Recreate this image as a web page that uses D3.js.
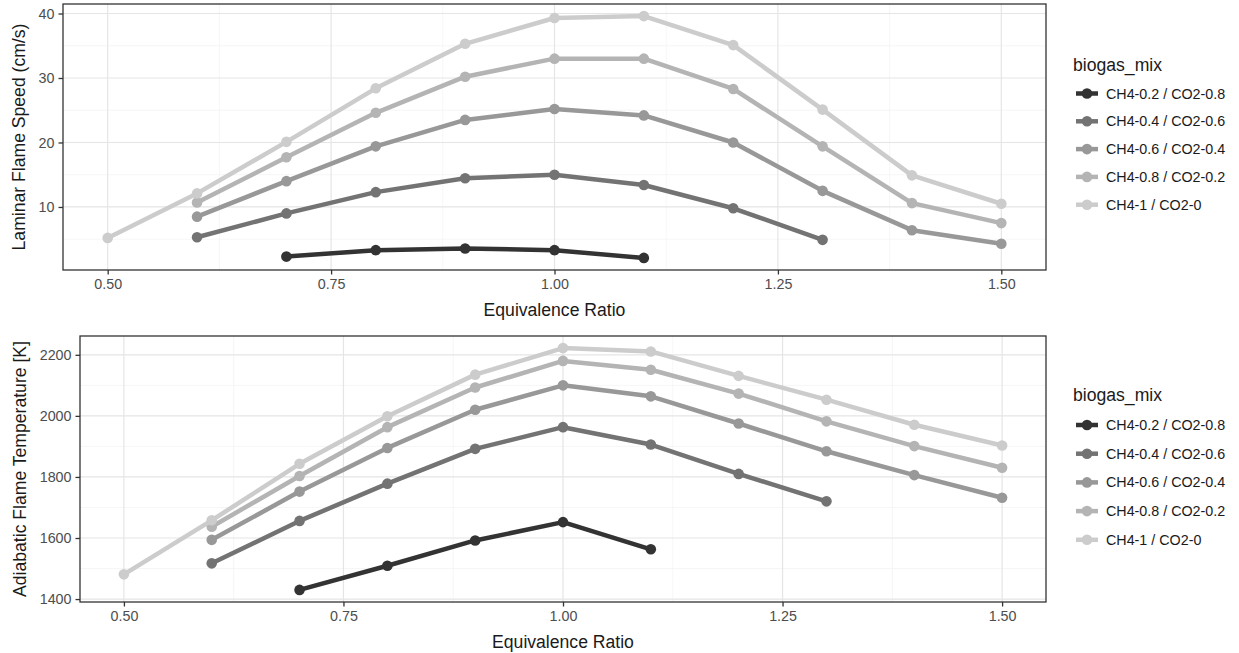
<!DOCTYPE html>
<html>
<head>
<meta charset="utf-8">
<script src="https://cdn.jsdelivr.net/npm/d3@7"></script>
<style>
  html, body { margin: 0; padding: 0; background: #ffffff; }
  svg { display: block; font-family: "Liberation Sans", Arial, sans-serif; }
</style>
</head>
<body>
<svg id="chart" width="1239" height="653"></svg>
<script>
// ---- Data ----
const seriesNames = ["CH4-0.2 / CO2-0.8", "CH4-0.4 / CO2-0.6", "CH4-0.6 / CO2-0.4", "CH4-0.8 / CO2-0.2", "CH4-1 / CO2-0"];
const seriesColors = ["#333333", "#737373", "#989898", "#b4b4b4", "#cccccc"];

const phi_02 = [0.7, 0.8, 0.9, 1.0, 1.1];
const phi_04 = [0.6, 0.7, 0.8, 0.9, 1.0, 1.1, 1.2, 1.3];
const phi_06 = [0.6, 0.7, 0.8, 0.9, 1.0, 1.1, 1.2, 1.3, 1.4, 1.5];
const phi_08 = [0.6, 0.7, 0.8, 0.9, 1.0, 1.1, 1.2, 1.3, 1.4, 1.5];
const phi_10 = [0.5, 0.6, 0.7, 0.8, 0.9, 1.0, 1.1, 1.2, 1.3, 1.4, 1.5];

const speed_02 = [2.3, 3.3, 3.55, 3.3, 2.1];
const speed_04 = [5.3, 9.0, 12.3, 14.45, 15.0, 13.4, 9.8, 4.9];
const speed_06 = [8.5, 14.0, 19.4, 23.5, 25.2, 24.2, 20.0, 12.5, 6.4, 4.3];
const speed_08 = [10.7, 17.7, 24.6, 30.2, 33.0, 33.0, 28.3, 19.4, 10.6, 7.5];
const speed_10 = [5.2, 12.1, 20.1, 28.4, 35.3, 39.3, 39.6, 35.1, 25.1, 14.9, 10.5];

const temp_02 = [1430, 1509, 1592, 1652, 1563];
const temp_04 = [1517, 1656, 1778, 1892, 1963, 1906, 1810, 1720];
const temp_06 = [1594, 1752, 1895, 2020, 2100, 2064, 1975, 1884, 1806, 1732];
const temp_08 = [1637, 1803, 1963, 2093, 2180, 2151, 2073, 1982, 1901, 1830];
const temp_10 = [1481, 1658, 1843, 1999, 2135, 2222, 2211, 2131, 2053, 1971, 1903];

const xTicks = [0.5, 0.75, 1.0, 1.25, 1.5];
const xMinor = [0.625, 0.875, 1.125, 1.375];
const speedTicks = [10, 20, 30, 40];
const speedMinor = [5, 15, 25, 35];
const tempTicks = [1400, 1600, 1800, 2000, 2200];
const tempMinor = [1500, 1700, 1900, 2100];

const phis = [phi_02, phi_04, phi_06, phi_08, phi_10];
const speeds = [speed_02, speed_04, speed_06, speed_08, speed_10];
const temps = [temp_02, temp_04, temp_06, temp_08, temp_10];

const svg = d3.select("#chart");
const FONT = "Liberation Sans, Arial, sans-serif";

function expand(lo, hi) { const d = (hi - lo) * 0.05; return [lo - d, hi + d]; }

function panel(opts) {
  const { left, right, top, bottom, yVals, ticks, minor, yTitle, yTitleX, legendTitleY, legendTop, legendStep } = opts;
  const allX = phis.flat();
  const allY = yVals.flat();
  const x = d3.scaleLinear().domain(expand(d3.min(allX), d3.max(allX))).range([left, right]);
  const y = d3.scaleLinear().domain(expand(d3.min(allY), d3.max(allY))).range([bottom, top]);
  const g = svg.append("g");

  // grid minor
  g.selectAll(null).data(xMinor).enter().append("line")
    .attr("x1", d => x(d)).attr("x2", d => x(d)).attr("y1", top).attr("y2", bottom)
    .attr("stroke", "#f2f2f2").attr("stroke-width", 0.7);
  g.selectAll(null).data(minor).enter().append("line")
    .attr("y1", d => y(d)).attr("y2", d => y(d)).attr("x1", left).attr("x2", right)
    .attr("stroke", "#f2f2f2").attr("stroke-width", 0.7);
  // grid major
  g.selectAll(null).data(xTicks).enter().append("line")
    .attr("x1", d => x(d)).attr("x2", d => x(d)).attr("y1", top).attr("y2", bottom)
    .attr("stroke", "#e5e5e5").attr("stroke-width", 1.2);
  g.selectAll(null).data(ticks).enter().append("line")
    .attr("y1", d => y(d)).attr("y2", d => y(d)).attr("x1", left).attr("x2", right)
    .attr("stroke", "#e5e5e5").attr("stroke-width", 1.2);

  // series
  const line = d3.line().x(d => x(d[0])).y(d => y(d[1]));
  seriesNames.forEach((name, i) => {
    const pts = phis[i].map((p, j) => [p, yVals[i][j]]);
    g.append("path").datum(pts).attr("d", line)
      .attr("fill", "none").attr("stroke", seriesColors[i]).attr("stroke-width", 4.5)
      .attr("stroke-linejoin", "round");
    g.selectAll(null).data(pts).enter().append("circle")
      .attr("cx", d => x(d[0])).attr("cy", d => y(d[1])).attr("r", 5.3)
      .attr("fill", seriesColors[i]);
  });

  // border
  g.append("rect").attr("x", left).attr("y", top).attr("width", right - left).attr("height", bottom - top)
    .attr("fill", "none").attr("stroke", "#333333").attr("stroke-width", 1.3);

  // axes
  const xAxis = d3.axisBottom(x).tickValues(xTicks).tickFormat(d3.format(".2f")).tickSizeOuter(0).tickSize(4.5).tickPadding(4);
  const ga = svg.append("g").attr("transform", `translate(0,${bottom})`).call(xAxis);
  ga.select(".domain").remove();
  ga.selectAll("line").attr("stroke", "#333333").attr("stroke-width", 1.3);
  ga.selectAll("text").attr("fill", "#4d4d4d").attr("font-size", "14.3px").attr("font-family", FONT);

  const yAxis = d3.axisLeft(y).tickValues(ticks).tickFormat(d3.format("d")).tickSizeOuter(0).tickSize(4.5).tickPadding(4);
  const gy = svg.append("g").attr("transform", `translate(${left},0)`).call(yAxis);
  gy.select(".domain").remove();
  gy.selectAll("line").attr("stroke", "#333333").attr("stroke-width", 1.3);
  gy.selectAll("text").attr("fill", "#4d4d4d").attr("font-size", "14.3px").attr("font-family", FONT);

  // titles
  svg.append("text").attr("x", (left + right) / 2).attr("y", bottom + 46)
    .attr("text-anchor", "middle").attr("font-size", "17.6px").attr("fill", "#1a1a1a")
    .text("Equivalence Ratio");
  svg.append("text").attr("transform", `translate(${yTitleX},${(top + bottom) / 2}) rotate(-90)`)
    .attr("text-anchor", "middle").attr("font-size", "17.6px").attr("fill", "#1a1a1a")
    .text(yTitle);

  // legend
  const lg = svg.append("g");
  lg.append("text").attr("x", 1073).attr("y", legendTitleY).attr("font-size", "17.6px").attr("fill", "#1a1a1a").text("biogas_mix");
  seriesNames.forEach((name, i) => {
    const cy = legendTop + i * legendStep;
    lg.append("line").attr("x1", 1076).attr("x2", 1098).attr("y1", cy).attr("y2", cy)
      .attr("stroke", seriesColors[i]).attr("stroke-width", 4.5);
    lg.append("circle").attr("cx", 1087).attr("cy", cy).attr("r", 5.3).attr("fill", seriesColors[i]);
    lg.append("text").attr("x", 1106).attr("y", cy).attr("dy", "0.35em").attr("font-size", "14.3px")
      .attr("fill", "#1a1a1a").text(name);
  });
}

panel({ left: 63, right: 1046, top: 4, bottom: 270, yVals: speeds, ticks: speedTicks, minor: speedMinor,
  yTitle: "Laminar Flame Speed (cm/s)", yTitleX: 25, legendTitleY: 71, legendTop: 93.5, legendStep: 27.8 });
panel({ left: 80, right: 1046, top: 336, bottom: 602, yVals: temps, ticks: tempTicks, minor: tempMinor,
  yTitle: "Adiabatic Flame Temperature [K]", yTitleX: 26, legendTitleY: 401, legendTop: 425, legendStep: 28.7 });
</script>
</body>
</html>
